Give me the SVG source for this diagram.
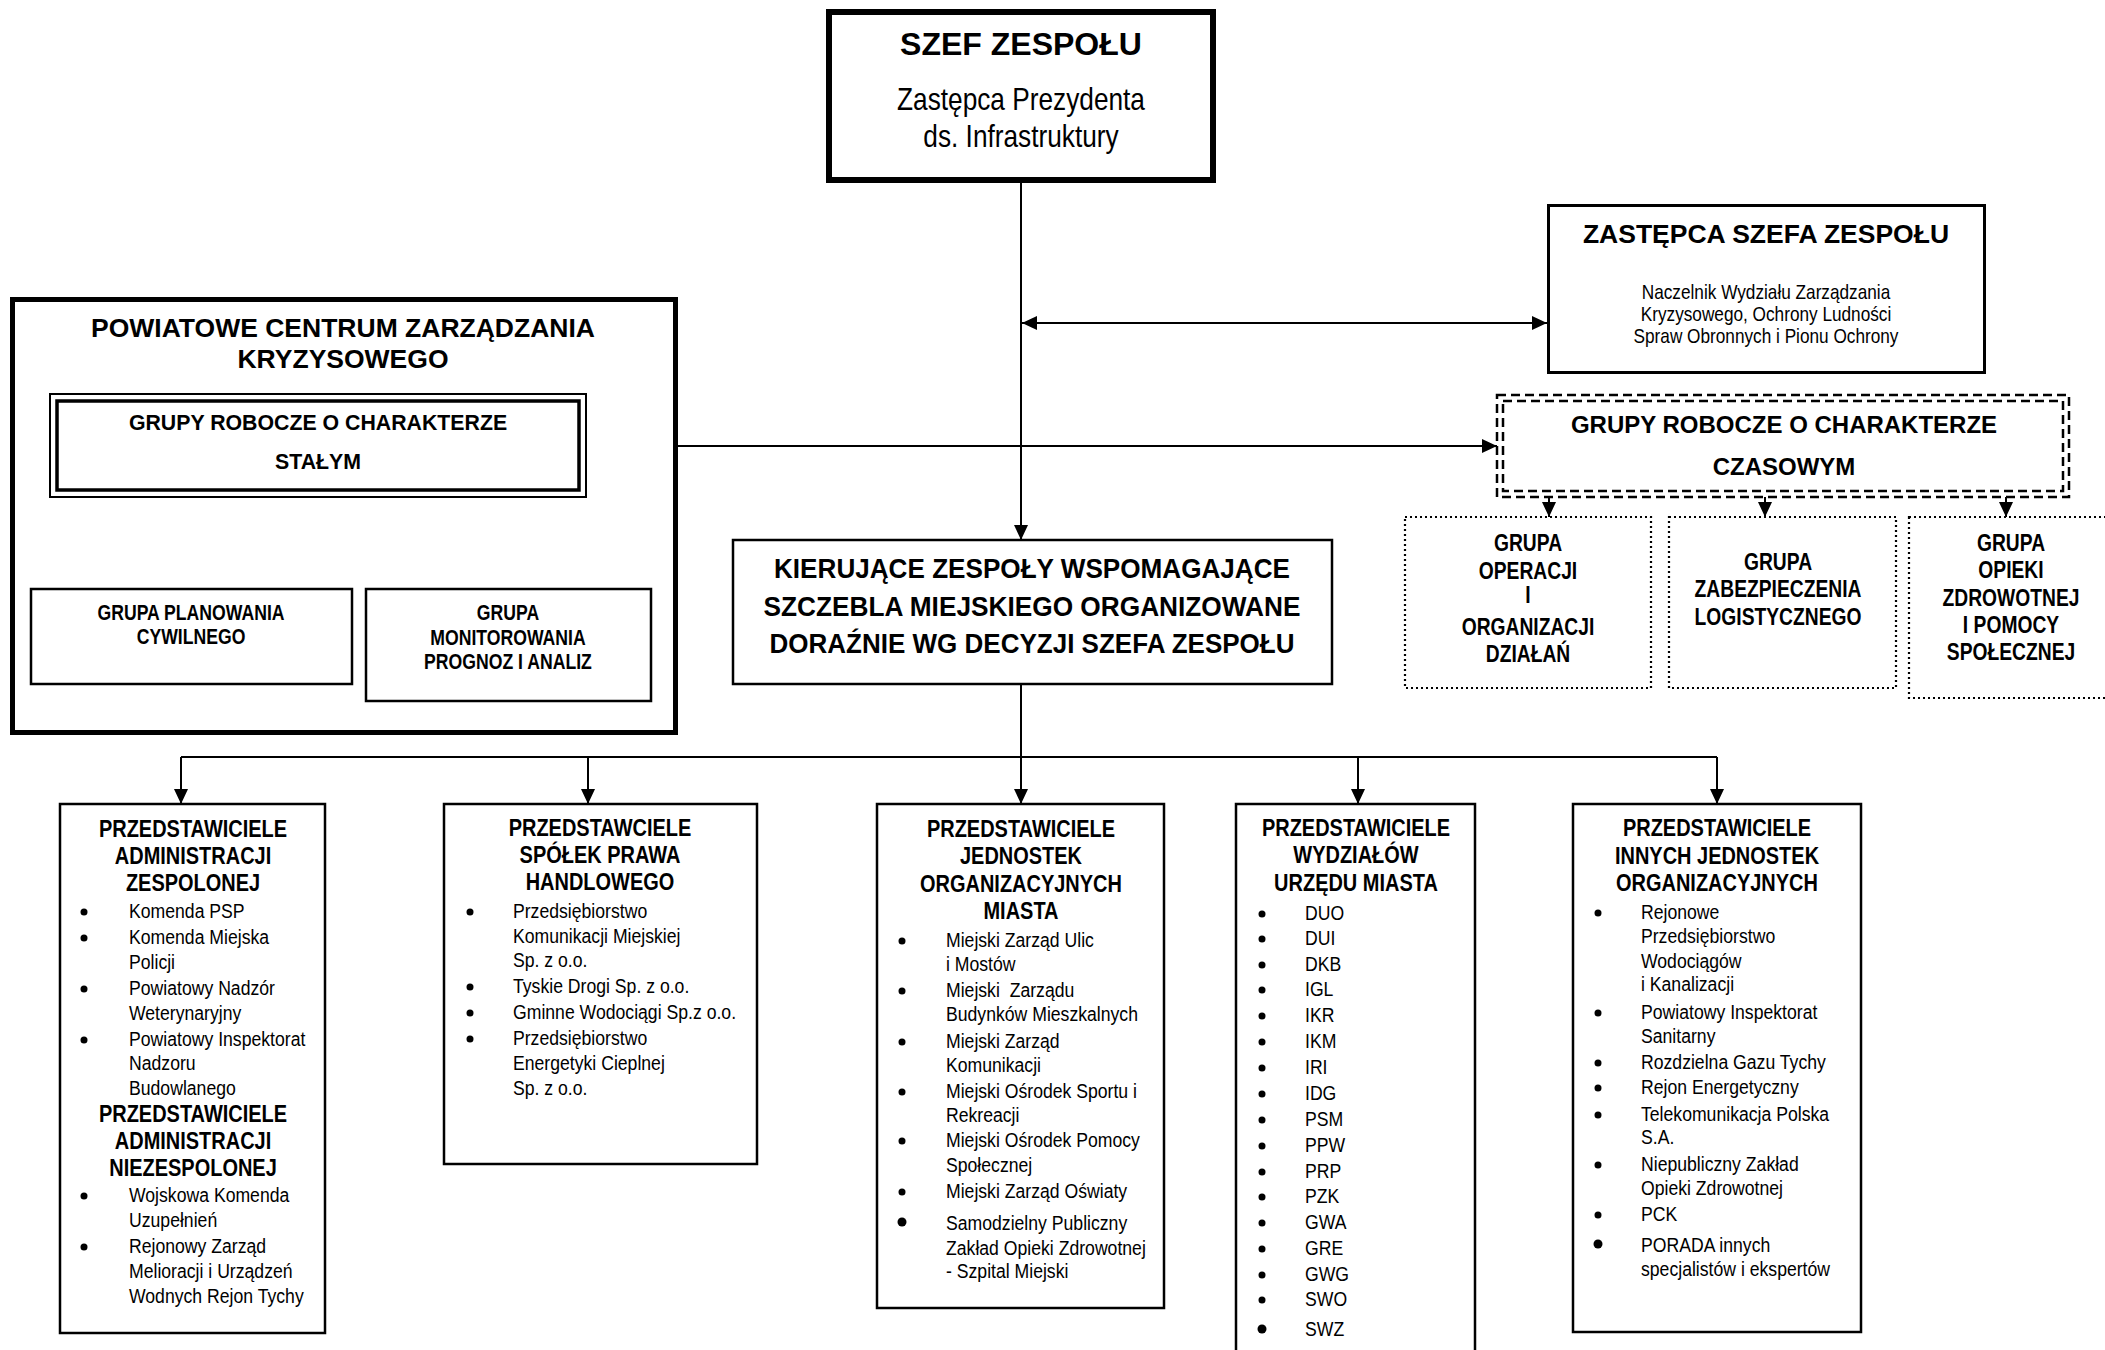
<svg xmlns="http://www.w3.org/2000/svg" width="2105" height="1350" viewBox="0 0 2105 1350">
<defs>
<style>
.bg{fill:#fff}
.box{fill:#fff;stroke:#000;stroke-width:2.5}
.dot{fill:none;stroke:#000;stroke-width:2.2;stroke-dasharray:2 3}
.dash{fill:none;stroke:#000;stroke-width:2.5;stroke-dasharray:9 5}
.ln{fill:none;stroke:#000;stroke-width:2}
.ar{marker-end:url(#ah)}
text{font-family:"Liberation Sans",Arial,sans-serif;fill:#000}
.c{text-anchor:middle}
.bd{font-weight:bold}
.h{font-weight:bold;font-size:23.5px;text-anchor:middle}
.it{font-size:21px;white-space:pre}
.g{font-weight:bold;font-size:23.5px;text-anchor:middle}
.g2{font-weight:bold;font-size:21.5px;text-anchor:middle}
.bu{fill:#000}
</style>
<marker id="ah" viewBox="0 0 15 14" refX="15" refY="7" markerWidth="15" markerHeight="14" markerUnits="userSpaceOnUse" orient="auto-start-reverse">
<path d="M0,0 L15,7 L0,14 z" fill="#000"/>
</marker>
</defs>
<rect class="bg" x="0" y="0" width="2105" height="1350"/>

<g id="connectors">
<path class="ln ar" d="M1021,180 V540"/>
<path class="ln" d="M1022,323 H1547" marker-start="url(#ah)" marker-end="url(#ah)"/>
<path class="ln ar" d="M586,446 H1497"/>
<path class="ln" d="M343,497 V540 M199,540 H510"/>
<path class="ln ar" d="M199,540 V589"/>
<path class="ln ar" d="M510,540 V589"/>
<path class="ln ar" d="M1549,497 V517"/>
<path class="ln ar" d="M1765,497 V517"/>
<path class="ln ar" d="M2006,497 V517"/>
<path class="ln ar" d="M1021,684 V804"/>
<path class="ln" d="M181,757 H1717"/>
<path class="ln ar" d="M181,757 V804"/>
<path class="ln ar" d="M588,757 V804"/>
<path class="ln ar" d="M1358,757 V804"/>
<path class="ln ar" d="M1717,757 V804"/>
</g>

<g id="szef">
<rect x="829" y="12" width="384" height="168" fill="#fff" stroke="#000" stroke-width="6"/>
<text class="bd c" x="1021" y="55" font-size="32">SZEF ZESPOŁU</text>
<text class="c" transform="translate(1021,110) scale(0.82,1)" font-size="32">Zastępca Prezydenta</text>
<text class="c" transform="translate(1021,147) scale(0.82,1)" font-size="32">ds. Infrastruktury</text>
</g>

<g id="zastepca">
<rect x="1548.5" y="205.5" width="436" height="167" fill="#fff" stroke="#000" stroke-width="3"/>
<text class="bd c" x="1766" y="243" font-size="26.5">ZASTĘPCA SZEFA ZESPOŁU</text>
<text class="c" transform="translate(1766,299) scale(0.82,1)" font-size="21">Naczelnik Wydziału Zarządzania</text>
<text class="c" transform="translate(1766,321) scale(0.82,1)" font-size="21">Kryzysowego, Ochrony Ludności</text>
<text class="c" transform="translate(1766,343) scale(0.82,1)" font-size="21">Spraw Obronnych i Pionu Ochrony</text>
</g>

<g id="pczk">
<rect x="12.5" y="299.5" width="663" height="433" fill="#fff" stroke="#000" stroke-width="5"/>
<text class="bd c" x="343" y="337" font-size="26.5">POWIATOWE CENTRUM ZARZĄDZANIA</text>
<text class="bd c" x="343" y="368" font-size="26.5">KRYZYSOWEGO</text>
</g>

<g id="grupy-stalym">
<rect x="50" y="394" width="536" height="103" fill="#fff" stroke="#000" stroke-width="2"/>
<rect x="57" y="401" width="522" height="89" fill="none" stroke="#000" stroke-width="3.5"/>
<text class="bd c" x="318" y="430" font-size="21.3">GRUPY ROBOCZE O CHARAKTERZE</text>
<text class="bd c" x="318" y="469" font-size="21.3">STAŁYM</text>
</g>

<g id="grupa-planowania">
<rect class="box" x="31" y="589" width="321" height="95" stroke-width="2"/>
<text class="g2" transform="translate(191,620) scale(0.82,1)">GRUPA PLANOWANIA</text>
<text class="g2" transform="translate(191,644) scale(0.82,1)">CYWILNEGO</text>
</g>

<g id="grupa-monitorowania">
<rect class="box" x="366" y="589" width="285" height="112" stroke-width="2"/>
<text class="g2" transform="translate(508,620) scale(0.82,1)">GRUPA</text>
<text class="g2" transform="translate(508,645) scale(0.82,1)">MONITOROWANIA</text>
<text class="g2" transform="translate(508,669) scale(0.82,1)">PROGNOZ I ANALIZ</text>
</g>

<g id="grupy-czasowym">
<rect class="dash" x="1497" y="395" width="572" height="102"/>
<rect class="dash" x="1503" y="401" width="560" height="90"/>
<text class="bd c" x="1784" y="433" font-size="24">GRUPY ROBOCZE O CHARAKTERZE</text>
<text class="bd c" x="1784" y="475" font-size="24">CZASOWYM</text>
</g>

<g id="grupa-operacji">
<rect class="dot" x="1405" y="517" width="246" height="171"/>
<text class="g" transform="translate(1528,551) scale(0.82,1)">GRUPA</text>
<text class="g" transform="translate(1528,579) scale(0.82,1)">OPERACJI</text>
<text class="g" transform="translate(1528,603) scale(0.82,1)">I</text>
<text class="g" transform="translate(1528,635) scale(0.82,1)">ORGANIZACJI</text>
<text class="g" transform="translate(1528,662) scale(0.82,1)">DZIAŁAŃ</text>
</g>

<g id="grupa-logistyki">
<rect class="dot" x="1669" y="517" width="227" height="171"/>
<text class="g" transform="translate(1778,570) scale(0.82,1)">GRUPA</text>
<text class="g" transform="translate(1778,597) scale(0.82,1)">ZABEZPIECZENIA</text>
<text class="g" transform="translate(1778,625) scale(0.82,1)">LOGISTYCZNEGO</text>
</g>

<g id="grupa-opieki">
<rect class="dot" x="1909" y="517" width="210" height="181"/>
<text class="g" transform="translate(2011,551) scale(0.82,1)">GRUPA</text>
<text class="g" transform="translate(2011,578) scale(0.82,1)">OPIEKI</text>
<text class="g" transform="translate(2011,606) scale(0.82,1)">ZDROWOTNEJ</text>
<text class="g" transform="translate(2011,633) scale(0.82,1)">I POMOCY</text>
<text class="g" transform="translate(2011,660) scale(0.82,1)">SPOŁECZNEJ</text>
</g>

<g id="kierujace">
<rect class="box" x="733" y="540" width="599" height="144"/>
<text class="bd c" x="1032" y="578" font-size="27" textLength="516" lengthAdjust="spacingAndGlyphs">KIERUJĄCE ZESPOŁY WSPOMAGAJĄCE</text>
<text class="bd c" x="1032" y="616" font-size="27" textLength="537" lengthAdjust="spacingAndGlyphs">SZCZEBLA MIEJSKIEGO ORGANIZOWANE</text>
<text class="bd c" x="1032" y="653" font-size="27" textLength="525" lengthAdjust="spacingAndGlyphs">DORAŹNIE WG DECYZJI SZEFA ZESPOŁU</text>
</g>

<g id="administracja">
<rect class="box" x="60" y="804" width="265" height="529"/>
<text class="h" transform="translate(193,837) scale(0.85,1)">PRZEDSTAWICIELE</text>
<text class="h" transform="translate(193,864) scale(0.85,1)">ADMINISTRACJI</text>
<text class="h" transform="translate(193,891) scale(0.85,1)">ZESPOLONEJ</text>
<circle class="bu" cx="84" cy="912" r="3.5"/><text class="it" transform="translate(129,918) scale(0.84,1)">Komenda PSP</text>
<circle class="bu" cx="84" cy="938" r="3.5"/><text class="it" transform="translate(129,944) scale(0.84,1)">Komenda Miejska</text>
<text class="it" transform="translate(129,969) scale(0.84,1)">Policji</text>
<circle class="bu" cx="84" cy="989" r="3.5"/><text class="it" transform="translate(129,995) scale(0.84,1)">Powiatowy Nadzór</text>
<text class="it" transform="translate(129,1020) scale(0.84,1)">Weterynaryjny</text>
<circle class="bu" cx="84" cy="1040" r="3.5"/><text class="it" transform="translate(129,1046) scale(0.84,1)">Powiatowy Inspektorat</text>
<text class="it" transform="translate(129,1070) scale(0.84,1)">Nadzoru</text>
<text class="it" transform="translate(129,1095) scale(0.84,1)">Budowlanego</text>
<text class="h" transform="translate(193,1122) scale(0.85,1)">PRZEDSTAWICIELE</text>
<text class="h" transform="translate(193,1149) scale(0.85,1)">ADMINISTRACJI</text>
<text class="h" transform="translate(193,1176) scale(0.85,1)">NIEZESPOLONEJ</text>
<circle class="bu" cx="84" cy="1196" r="3.5"/><text class="it" transform="translate(129,1202) scale(0.84,1)">Wojskowa Komenda</text>
<text class="it" transform="translate(129,1227) scale(0.84,1)">Uzupełnień</text>
<circle class="bu" cx="84" cy="1247" r="3.5"/><text class="it" transform="translate(129,1253) scale(0.84,1)">Rejonowy Zarząd</text>
<text class="it" transform="translate(129,1278) scale(0.84,1)">Melioracji i Urządzeń</text>
<text class="it" transform="translate(129,1303) scale(0.84,1)">Wodnych Rejon Tychy</text>
</g>

<g id="spolki">
<rect class="box" x="444" y="804" width="313" height="360"/>
<text class="h" transform="translate(600,836) scale(0.85,1)">PRZEDSTAWCIELE</text>
<text class="h" transform="translate(600,863) scale(0.85,1)">SPÓŁEK PRAWA</text>
<text class="h" transform="translate(600,890) scale(0.85,1)">HANDLOWEGO</text>
<circle class="bu" cx="470" cy="912" r="3.5"/><text class="it" transform="translate(513,918) scale(0.84,1)">Przedsiębiorstwo</text>
<text class="it" transform="translate(513,943) scale(0.84,1)">Komunikacji Miejskiej</text>
<text class="it" transform="translate(513,967) scale(0.84,1)">Sp. z o.o.</text>
<circle class="bu" cx="470" cy="987" r="3.5"/><text class="it" transform="translate(513,993) scale(0.84,1)">Tyskie Drogi Sp. z o.o.</text>
<circle class="bu" cx="470" cy="1013" r="3.5"/><text class="it" transform="translate(513,1019) scale(0.84,1)">Gminne Wodociągi Sp.z o.o.</text>
<circle class="bu" cx="470" cy="1039" r="3.5"/><text class="it" transform="translate(513,1045) scale(0.84,1)">Przedsiębiorstwo</text>
<text class="it" transform="translate(513,1070) scale(0.84,1)">Energetyki Cieplnej</text>
<text class="it" transform="translate(513,1095) scale(0.84,1)">Sp. z o.o.</text>
</g>

<g id="jednostki-miasta">
<rect class="box" x="877" y="804" width="287" height="504"/>
<text class="h" transform="translate(1021,837) scale(0.85,1)">PRZEDSTAWICIELE</text>
<text class="h" transform="translate(1021,864) scale(0.85,1)">JEDNOSTEK</text>
<text class="h" transform="translate(1021,892) scale(0.85,1)">ORGANIZACYJNYCH</text>
<text class="h" transform="translate(1021,919) scale(0.85,1)">MIASTA</text>
<circle class="bu" cx="902" cy="941" r="3.5"/><text class="it" transform="translate(946,947) scale(0.84,1)">Miejski Zarząd Ulic</text>
<text class="it" transform="translate(946,971) scale(0.84,1)">i Mostów</text>
<circle class="bu" cx="902" cy="991" r="3.5"/><text class="it" transform="translate(946,997) scale(0.84,1)">Miejski  Zarządu</text>
<text class="it" transform="translate(946,1021) scale(0.84,1)">Budynków Mieszkalnych</text>
<circle class="bu" cx="902" cy="1042" r="3.5"/><text class="it" transform="translate(946,1048) scale(0.84,1)">Miejski Zarząd</text>
<text class="it" transform="translate(946,1072) scale(0.84,1)">Komunikacji</text>
<circle class="bu" cx="902" cy="1092" r="3.5"/><text class="it" transform="translate(946,1098) scale(0.84,1)">Miejski Ośrodek Sportu i</text>
<text class="it" transform="translate(946,1122) scale(0.84,1)">Rekreacji</text>
<circle class="bu" cx="902" cy="1141" r="3.5"/><text class="it" transform="translate(946,1147) scale(0.84,1)">Miejski Ośrodek Pomocy</text>
<text class="it" transform="translate(946,1172) scale(0.84,1)">Społecznej</text>
<circle class="bu" cx="902" cy="1192" r="3.5"/><text class="it" transform="translate(946,1198) scale(0.84,1)">Miejski Zarząd Oświaty</text>
<circle class="bu" cx="902" cy="1222" r="4.5"/><text class="it" transform="translate(946,1230) scale(0.84,1)">Samodzielny Publiczny</text>
<text class="it" transform="translate(946,1255) scale(0.84,1)">Zakład Opieki Zdrowotnej</text>
<text class="it" transform="translate(946,1278) scale(0.84,1)">- Szpital Miejski</text>
</g>

<g id="wydzialy">
<rect class="box" x="1236" y="804" width="239" height="570"/>
<text class="h" transform="translate(1356,836) scale(0.85,1)">PRZEDSTAWICIELE</text>
<text class="h" transform="translate(1356,863) scale(0.85,1)">WYDZIAŁÓW</text>
<text class="h" transform="translate(1356,891) scale(0.85,1)">URZĘDU MIASTA</text>
<circle class="bu" cx="1262" cy="914" r="3.5"/><text class="it" transform="translate(1305,920) scale(0.84,1)">DUO</text>
<circle class="bu" cx="1262" cy="939" r="3.5"/><text class="it" transform="translate(1305,945) scale(0.84,1)">DUI</text>
<circle class="bu" cx="1262" cy="965" r="3.5"/><text class="it" transform="translate(1305,971) scale(0.84,1)">DKB</text>
<circle class="bu" cx="1262" cy="990" r="3.5"/><text class="it" transform="translate(1305,996) scale(0.84,1)">IGL</text>
<circle class="bu" cx="1262" cy="1016" r="3.5"/><text class="it" transform="translate(1305,1022) scale(0.84,1)">IKR</text>
<circle class="bu" cx="1262" cy="1042" r="3.5"/><text class="it" transform="translate(1305,1048) scale(0.84,1)">IKM</text>
<circle class="bu" cx="1262" cy="1068" r="3.5"/><text class="it" transform="translate(1305,1074) scale(0.84,1)">IRI</text>
<circle class="bu" cx="1262" cy="1094" r="3.5"/><text class="it" transform="translate(1305,1100) scale(0.84,1)">IDG</text>
<circle class="bu" cx="1262" cy="1120" r="3.5"/><text class="it" transform="translate(1305,1126) scale(0.84,1)">PSM</text>
<circle class="bu" cx="1262" cy="1146" r="3.5"/><text class="it" transform="translate(1305,1152) scale(0.84,1)">PPW</text>
<circle class="bu" cx="1262" cy="1172" r="3.5"/><text class="it" transform="translate(1305,1178) scale(0.84,1)">PRP</text>
<circle class="bu" cx="1262" cy="1197" r="3.5"/><text class="it" transform="translate(1305,1203) scale(0.84,1)">PZK</text>
<circle class="bu" cx="1262" cy="1223" r="3.5"/><text class="it" transform="translate(1305,1229) scale(0.84,1)">GWA</text>
<circle class="bu" cx="1262" cy="1249" r="3.5"/><text class="it" transform="translate(1305,1255) scale(0.84,1)">GRE</text>
<circle class="bu" cx="1262" cy="1275" r="3.5"/><text class="it" transform="translate(1305,1281) scale(0.84,1)">GWG</text>
<circle class="bu" cx="1262" cy="1300" r="3.5"/><text class="it" transform="translate(1305,1306) scale(0.84,1)">SWO</text>
<circle class="bu" cx="1262" cy="1329" r="4.5"/><text class="it" transform="translate(1305,1336) scale(0.84,1)">SWZ</text>
</g>

<g id="inne-jednostki">
<rect class="box" x="1573" y="804" width="288" height="528"/>
<text class="h" transform="translate(1717,836) scale(0.85,1)">PRZEDSTAWICIELE</text>
<text class="h" transform="translate(1717,864) scale(0.85,1)">INNYCH JEDNOSTEK</text>
<text class="h" transform="translate(1717,891) scale(0.85,1)">ORGANIZACYJNYCH</text>
<circle class="bu" cx="1598" cy="913" r="3.5"/><text class="it" transform="translate(1641,919) scale(0.84,1)">Rejonowe</text>
<text class="it" transform="translate(1641,943) scale(0.84,1)">Przedsiębiorstwo</text>
<text class="it" transform="translate(1641,968) scale(0.84,1)">Wodociągów</text>
<text class="it" transform="translate(1641,991) scale(0.84,1)">i Kanalizacji</text>
<circle class="bu" cx="1598" cy="1013" r="3.5"/><text class="it" transform="translate(1641,1019) scale(0.84,1)">Powiatowy Inspektorat</text>
<text class="it" transform="translate(1641,1043) scale(0.84,1)">Sanitarny</text>
<circle class="bu" cx="1598" cy="1063" r="3.5"/><text class="it" transform="translate(1641,1069) scale(0.84,1)">Rozdzielna Gazu Tychy</text>
<circle class="bu" cx="1598" cy="1088" r="3.5"/><text class="it" transform="translate(1641,1094) scale(0.84,1)">Rejon Energetyczny</text>
<circle class="bu" cx="1598" cy="1115" r="3.5"/><text class="it" transform="translate(1641,1121) scale(0.84,1)">Telekomunikacja Polska</text>
<text class="it" transform="translate(1641,1144) scale(0.84,1)">S.A.</text>
<circle class="bu" cx="1598" cy="1165" r="3.5"/><text class="it" transform="translate(1641,1171) scale(0.84,1)">Niepubliczny Zakład</text>
<text class="it" transform="translate(1641,1195) scale(0.84,1)">Opieki Zdrowotnej</text>
<circle class="bu" cx="1598" cy="1215" r="3.5"/><text class="it" transform="translate(1641,1221) scale(0.84,1)">PCK</text>
<circle class="bu" cx="1598" cy="1244" r="4.5"/><text class="it" transform="translate(1641,1252) scale(0.84,1)">PORADA innych</text>
<text class="it" transform="translate(1641,1276) scale(0.84,1)">specjalistów i ekspertów</text>
</g>
</svg>
